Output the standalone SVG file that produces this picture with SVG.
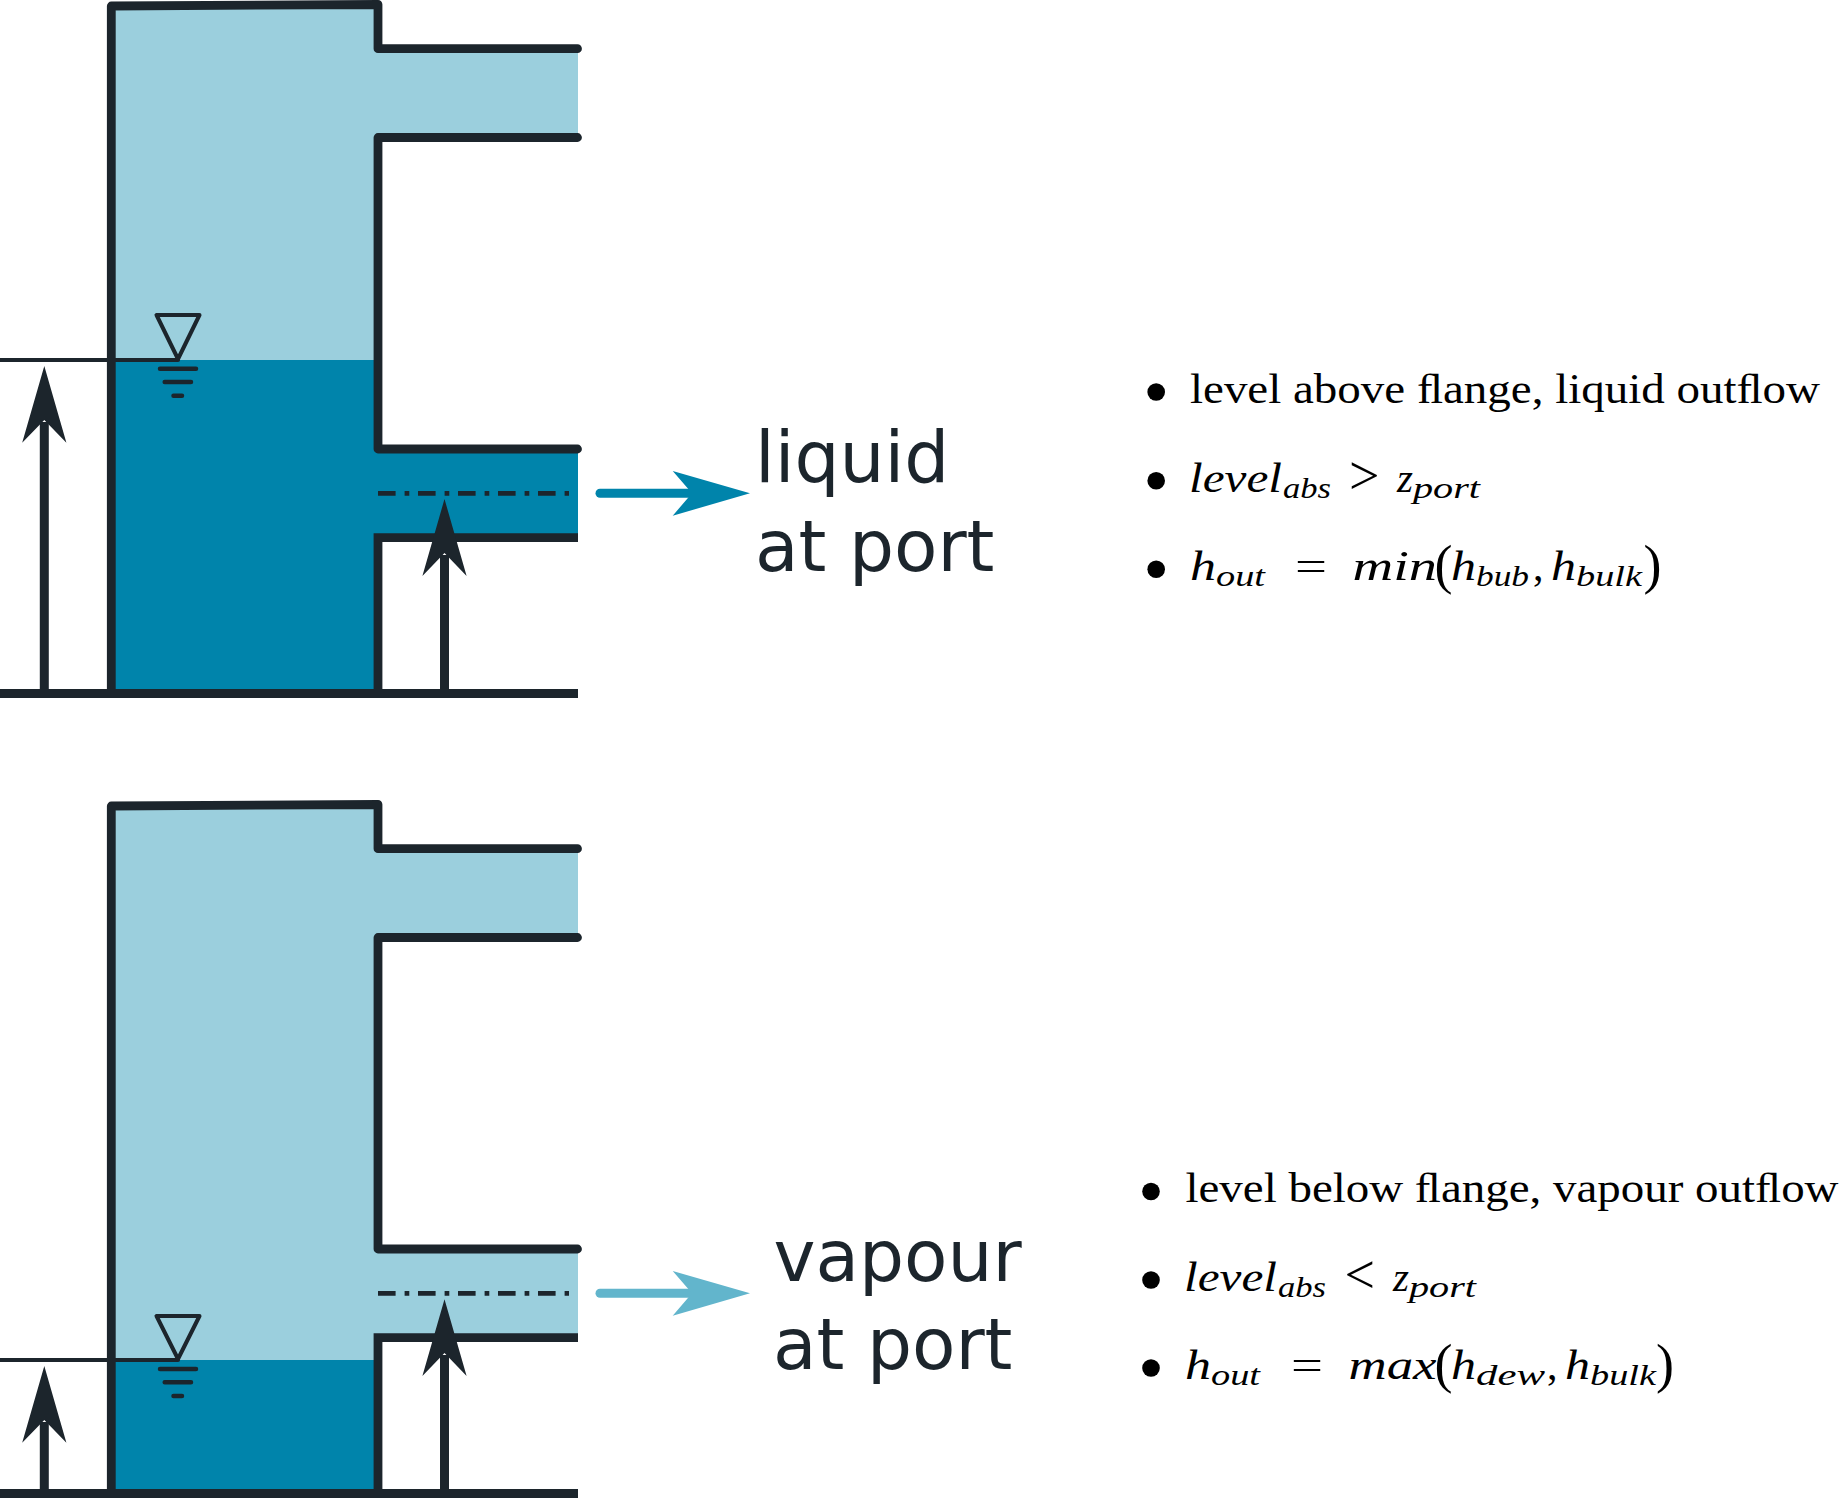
<svg xmlns="http://www.w3.org/2000/svg" width="1840" height="1498" viewBox="0 0 1840 1498">
<style>
.light{fill:#9bcfdd}
.dark{fill:#0084ab}
.wall{fill:none;stroke:#1c252c;stroke-width:8.8;stroke-linejoin:round;stroke-linecap:round}
.base{fill:none;stroke:#1c252c;stroke-width:8.8}
.thin{fill:none;stroke:#1c252c;stroke-width:4;stroke-linecap:round;stroke-linejoin:round}
.tick{fill:none;stroke:#1c252c;stroke-width:4.5;stroke-linecap:round}
.axis{fill:none;stroke:#1c252c;stroke-width:4.7;stroke-dasharray:17.6 9 4.7 8.7}
.stem{fill:none;stroke:#1c252c;stroke-width:9}
.head{fill:#1c252c}
.label{font-family:"DejaVu Sans",sans-serif;font-size:71px;fill:#1c252c}
.t{font-family:"Liberation Serif",serif;font-size:42px;fill:#000}
.r{font-family:"Liberation Serif",serif;font-size:54px;fill:#000}
.m{font-family:"Liberation Serif",serif;font-size:42px;font-style:italic;fill:#000}
.s{font-family:"Liberation Serif",serif;font-size:30px;font-style:italic;fill:#000}
</style>
<g id="vessel-top">
<path class="light" d="M111,6L378,4.5V48.7H578V137H378V360H111Z"/>
<path class="dark" d="M111,360H378V449H578V538H378V693H111Z"/>
<path class="wall" d="M111.3,693V6L378,4.5V48.7H577.5"/>
<path class="wall" d="M577.5,137.5H378V449H577.5"/>
<path class="base" d="M378,693V537.7H578"/>
<path class="base" d="M0,693.5H578"/>
<path class="axis" d="M378,493.3H569"/>
<path class="thin" d="M0,360H178"/>
<path class="thin" d="M156.5,315H199.5L178,359Z"/>
<path class="tick" d="M160,368.7H196M164.7,382H191M173.5,395.7H182"/>
</g>
<g id="vessel-bottom">
<path class="light" d="M111,806L378,804.5V848.7H578V937H378V1249H578V1338H378V1360H111Z"/>
<path class="dark" d="M111,1360H378V1493H111Z"/>
<path class="wall" d="M111.3,1493V806L378,804.5V848.7H577.5"/>
<path class="wall" d="M577.5,937.5H378V1249H577.5"/>
<path class="base" d="M378,1493V1337.7H578"/>
<path class="base" d="M0,1493.5H578"/>
<path class="axis" d="M378,1293.3H569"/>
<path class="thin" d="M0,1360H178"/>
<path class="thin" d="M156.5,1316H199.5L178,1359Z"/>
<path class="tick" d="M160,1369H196M164.7,1382.3H191M173.5,1396H182"/>
</g>
<g id="connectors">
<path class="stem" d="M44.3,422V690"/>
<path class="head" d="M44.3,366L66.4,442.7L44.3,420L22.2,442.7Z"/>
<path class="stem" d="M444.5,555V690"/>
<path class="head" d="M444.5,499L466.6,576L444.5,553L422.4,576Z"/>
<path class="stem" d="M44.3,1422V1490"/>
<path class="head" d="M44.3,1366L66.4,1442.7L44.3,1420L22.2,1442.7Z"/>
<path class="stem" d="M444.5,1355V1490"/>
<path class="head" d="M444.5,1299.3L466.6,1376L444.5,1353L422.4,1376Z"/>
<path d="M600,493.3H700" fill="none" stroke="#0084ab" stroke-width="9" stroke-linecap="round"/>
<path d="M750,493.3L672.7,471L692,493.3L672.7,515.7Z" fill="#0084ab"/>
<path d="M600,1293.3H700" fill="none" stroke="#62b5cc" stroke-width="9" stroke-linecap="round"/>
<path d="M750,1293.3L672.7,1271L692,1293.3L672.7,1315.7Z" fill="#62b5cc"/>
</g>
<g id="label-liquid">
<text class="label" x="755" y="482">liquid</text>
<text class="label" x="755" y="570.7">at port</text>
</g>
<g id="label-vapour">
<text class="label" x="773.5" y="1280.7">vapour</text>
<text class="label" x="773" y="1369.3">at port</text>
</g>
<g id="notes-liquid">
<circle cx="1156.2" cy="392" r="8.8"/>
<circle cx="1156.2" cy="480.7" r="8.8"/>
<circle cx="1156.2" cy="569.3" r="8.8"/>
<text class="t" x="1190" y="402.7" textLength="630" lengthAdjust="spacingAndGlyphs">level above ﬂange, liquid outﬂow</text>
<text class="m" x="1189" y="492" textLength="93" lengthAdjust="spacingAndGlyphs">level</text>
<text class="s" x="1283" y="498.3" textLength="48" lengthAdjust="spacingAndGlyphs">abs</text>
<text class="r" x="1349" y="493.5">&gt;</text>
<text class="m" x="1397" y="492" textLength="16" lengthAdjust="spacingAndGlyphs">z</text>
<text class="s" x="1413" y="498.3" textLength="67" lengthAdjust="spacingAndGlyphs">port</text>
<text class="m" x="1190" y="580" textLength="26" lengthAdjust="spacingAndGlyphs">h</text>
<text class="s" x="1216" y="586" textLength="49" lengthAdjust="spacingAndGlyphs">out</text>
<text class="t" x="1295" y="580" textLength="32" lengthAdjust="spacingAndGlyphs">=</text>
<text class="m" x="1352.5" y="580" textLength="84.5" lengthAdjust="spacingAndGlyphs">min</text>
<text class="r" x="1434.5" y="583">(</text>
<text class="m" x="1451" y="580" textLength="25" lengthAdjust="spacingAndGlyphs">h</text>
<text class="s" x="1476" y="586" textLength="53" lengthAdjust="spacingAndGlyphs">bub</text>
<text class="t" x="1533" y="580">,</text>
<text class="m" x="1551" y="580" textLength="25" lengthAdjust="spacingAndGlyphs">h</text>
<text class="s" x="1576" y="586" textLength="66" lengthAdjust="spacingAndGlyphs">bulk</text>
<text class="r" x="1643.5" y="583">)</text>
</g>
<g id="notes-vapour">
<circle cx="1151" cy="1191.5" r="8.8"/>
<circle cx="1151" cy="1280" r="8.8"/>
<circle cx="1151" cy="1368" r="8.8"/>
<text class="t" x="1185.5" y="1201.7" textLength="653" lengthAdjust="spacingAndGlyphs">level below ﬂange, vapour outﬂow</text>
<text class="m" x="1184" y="1291" textLength="93" lengthAdjust="spacingAndGlyphs">level</text>
<text class="s" x="1278" y="1297.3" textLength="48" lengthAdjust="spacingAndGlyphs">abs</text>
<text class="r" x="1344.5" y="1292.5">&lt;</text>
<text class="m" x="1393" y="1291" textLength="16" lengthAdjust="spacingAndGlyphs">z</text>
<text class="s" x="1409" y="1297.3" textLength="67" lengthAdjust="spacingAndGlyphs">port</text>
<text class="m" x="1185" y="1379" textLength="26" lengthAdjust="spacingAndGlyphs">h</text>
<text class="s" x="1211" y="1385" textLength="49" lengthAdjust="spacingAndGlyphs">out</text>
<text class="t" x="1291" y="1379" textLength="32" lengthAdjust="spacingAndGlyphs">=</text>
<text class="m" x="1348.5" y="1379" textLength="88" lengthAdjust="spacingAndGlyphs">max</text>
<text class="r" x="1434.5" y="1382">(</text>
<text class="m" x="1451" y="1379" textLength="25" lengthAdjust="spacingAndGlyphs">h</text>
<text class="s" x="1476" y="1385" textLength="69" lengthAdjust="spacingAndGlyphs">dew</text>
<text class="t" x="1547" y="1379">,</text>
<text class="m" x="1565" y="1379" textLength="25" lengthAdjust="spacingAndGlyphs">h</text>
<text class="s" x="1590" y="1385" textLength="66" lengthAdjust="spacingAndGlyphs">bulk</text>
<text class="r" x="1656" y="1382">)</text>
</g>
</svg>
